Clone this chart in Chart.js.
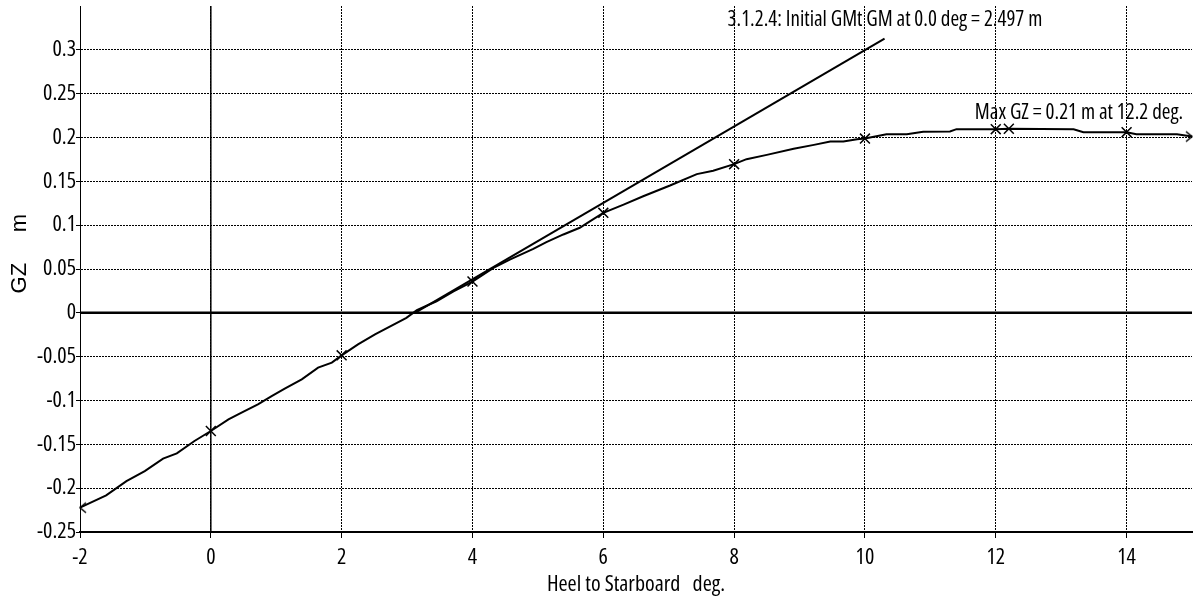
<!DOCTYPE html>
<html>
<head>
<meta charset="utf-8">
<title>GZ curve</title>
<script src="https://cdn.jsdelivr.net/npm/chart.js@4.4.1/dist/chart.umd.min.js"></script>
<style>
  html, body { margin: 0; padding: 0; background: #fff; }
  #wrap { position: relative; width: 1193px; height: 605px; }
</style>
</head>
<body>
<div id="wrap"><canvas id="gz"></canvas></div>
<script>
// righting lever curve, heel to starboard (deg) vs GZ (m)
const heelDeg = [-2, -1.6, -1.29, -1.01, -0.73, -0.52, -0.25, 0, 0.27, 0.47, 0.72, 0.93, 1.13, 1.39, 1.64, 1.85,
  2, 2.25, 2.51, 2.99, 3.15, 3.45, 3.71, 4, 4.32, 4.57, 4.93, 5.13, 5.39, 5.64, 5.8,
  6, 6.31, 6.61, 7.02, 7.43, 7.68, 8, 8.19, 8.5, 8.91, 9.22, 9.47, 9.67, 9.88,
  10, 10.33, 10.64, 10.89, 11.3, 11.4, 12, 12.2, 13.19, 13.34, 14, 14.15, 14.77, 15];
const gzValues = [-0.2222, -0.2082, -0.1919, -0.1805, -0.1663, -0.1603, -0.1462, -0.1348, -0.1215, -0.1138, -0.1044, -0.0949, -0.0865, -0.0759, -0.0625, -0.0568,
  -0.0485, -0.0359, -0.0245, -0.0057, 0.0030, 0.0132, 0.0246, 0.0357, 0.0513, 0.0608, 0.0730, 0.0806, 0.0894, 0.0970, 0.1045,
  0.1141, 0.1235, 0.1330, 0.1452, 0.1582, 0.1620, 0.1696, 0.1753, 0.1802, 0.1871, 0.1916, 0.1954, 0.1954, 0.1981,
  0.1988, 0.2038, 0.2038, 0.2065, 0.2068, 0.2095, 0.2095, 0.21, 0.2095, 0.2061, 0.2061, 0.2038, 0.2038, 0.2011];
const markedHeels = [0, 2, 4, 6, 8, 10, 12, 12.2, 14];

const xTicks = [-2, 0, 2, 4, 6, 8, 10, 12, 14];
const yTicks = [-0.25, -0.2, -0.15, -0.1, -0.05, 0, 0.05, 0.1, 0.15, 0.2, 0.25, 0.3];

// initial GM line: slope is GM per radian, drawn from the zero crossing
const gmValue = 2.497;
const gmHeels = [3.12, 10.3];
const maxGz = 0.21;
const maxGzHeel = 12.2;

// narrow labels: Open Sans with the condensed width
const narrow = "'Open Sans', 'DejaVu Sans Condensed', sans-serif";
const narrowFont = size => ({ family: narrow, size, weight: 'condensed' });

const curve = heelDeg.map((h, i) => ({ x: h, y: gzValues[i] }));
const gmLine = gmHeels.map(h => ({ x: h, y: gmValue * (h - gmHeels[0]) * Math.PI / 180 }));

function arrowHead(dir) {
  const c = document.createElement('canvas');
  c.width = 16; c.height = 14;
  const g = c.getContext('2d');
  g.strokeStyle = '#000';
  g.lineWidth = 1.5;
  g.beginPath();
  g.moveTo(8 + dir * 6, 2);
  g.lineTo(8, 7);
  g.lineTo(8 + dir * 6, 12);
  g.stroke();
  return c;
}
const leftEnd = arrowHead(1);
const rightEnd = arrowHead(-1);

const notes = {
  id: 'notes',
  afterDatasetsDraw(chart) {
    const { ctx, scales: { x, y } } = chart;
    ctx.save();
    ctx.fillStyle = '#000';
    ctx.font = 'condensed 21px ' + narrow;
    ctx.textBaseline = 'middle';
    ctx.textAlign = 'left';
    ctx.fillText('3.1.2.4: Initial GMt GM at 0.0 deg = ' + gmValue.toFixed(3) + ' m',
      x.getPixelForValue(7.9), y.getPixelForValue(0.334));
    ctx.fillText('Max GZ = ' + maxGz.toFixed(2) + ' m at ' + maxGzHeel.toFixed(1) + ' deg.',
      x.getPixelForValue(11.68), y.getPixelForValue(0.228));
    ctx.restore();
  }
};

new Chart(document.getElementById('gz'), {
  type: 'line',
  data: {
    datasets: [
      {
        data: curve,
        borderColor: '#000',
        borderWidth: 2,
        tension: 0,
        clip: false,
        pointStyle: c => c.dataIndex === 0 ? leftEnd
          : c.dataIndex === heelDeg.length - 1 ? rightEnd
          : 'crossRot',
        pointRadius: c => (c.dataIndex === 0 || c.dataIndex === heelDeg.length - 1 ||
          markedHeels.includes(heelDeg[c.dataIndex])) ? 7 : 0,
        pointBorderColor: '#000',
        pointBorderWidth: 1.5,
        order: 0
      },
      {
        data: gmLine,
        borderColor: '#000',
        borderWidth: 2,
        pointRadius: 0,
        order: 1
      },
      {
        // zero GZ line
        data: [{ x: -2, y: 0 }, { x: 15, y: 0 }],
        borderColor: '#000',
        borderWidth: 2.5,
        pointRadius: 0,
        order: 2
      },
      {
        // upright line
        data: [{ x: 0, y: -0.25 }, { x: 0, y: 0.35 }],
        borderColor: '#000',
        borderWidth: 1.5,
        pointRadius: 0,
        order: 2
      }
    ]
  },
  options: {
    responsive: true,
    maintainAspectRatio: false,
    animation: false,
    events: [],
    layout: { autoPadding: false, padding: { top: 6, right: 1, left: 0, bottom: 0 } },
    plugins: { legend: { display: false }, tooltip: { enabled: false } },
    scales: {
      x: {
        type: 'linear',
        min: -2,
        max: 15,
        afterBuildTicks: s => { s.ticks = xTicks.map(v => ({ value: v })); },
        afterFit: s => { s.height = 73; s.paddingLeft = 0; s.paddingRight = 0; },
        grid: { color: '#000', lineWidth: 1, tickLength: 6, tickColor: '#000', tickBorderDash: [] },
        border: { display: true, color: '#000', width: 2, dash: [2, 1] },
        ticks: { color: '#000', font: narrowFont(22), padding: 7, maxRotation: 0 },
        title: {
          display: true,
          text: 'Heel to Starboard   deg.',
          color: '#000',
          font: narrowFont(22),
          padding: { top: 0, bottom: 7 }
        }
      },
      y: {
        type: 'linear',
        min: -0.25,
        max: 0.35,
        afterBuildTicks: s => { s.ticks = yTicks.map(v => ({ value: v })); },
        afterFit: s => { s.width = 80; s.paddingTop = 0; s.paddingBottom = 0; },
        grid: { color: '#000', lineWidth: 1, tickLength: 4, tickColor: '#000', tickBorderDash: [] },
        border: { display: true, color: '#000', width: 1, dash: [2, 1] },
        ticks: {
          color: '#000',
          font: narrowFont(22),
          padding: 0,
          callback: v => String(Math.round(v * 100) / 100)
        },
        title: {
          display: true,
          text: '     GZ     m',
          color: '#000',
          font: { family: "'Liberation Sans', Arial, sans-serif", size: 22 },
          padding: { top: 7, bottom: 0 }
        }
      }
    }
  },
  plugins: [notes]
});
</script>
</body>
</html>
